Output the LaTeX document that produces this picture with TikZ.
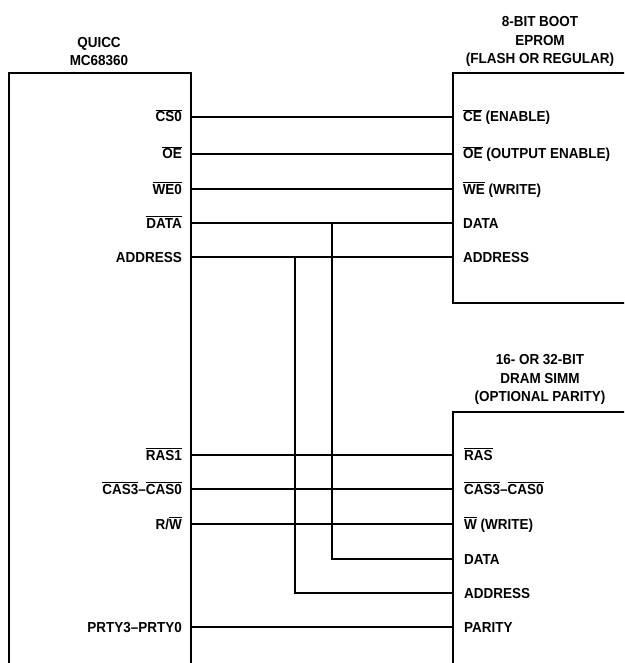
\documentclass[tikz,border=0pt]{standalone}
\usepackage{fontspec}
\setmainfont{Liberation Sans}[FakeStretch=0.93]
\newcommand{\ob}[1]{$\overline{\mbox{#1}}$}
\begin{document}
\begin{tikzpicture}[x=1pt,y=-1pt,
  chipbox/.style={draw,line width=2.6pt,inner sep=0pt,outer sep=0pt,anchor=north west},
  lbl/.style={font=\fontsize{14.5}{18.5}\selectfont\bfseries,inner sep=0pt},
  pinl/.style={lbl,anchor=base east},
  pinr/.style={lbl,anchor=base west},
  title/.style={lbl,align=center,anchor=south},
  thin/.style={line width=1.4pt},
  bus/.style={line width=2.8pt}]
\useasboundingbox (0,0) rectangle (624,663);
\clip (0,0) rectangle (624,663);
% boxes
\node[chipbox,minimum width=182pt,minimum height=640pt] (chip) at (9,73) {};
\node[chipbox,minimum width=220pt,minimum height=230pt] (eprom) at (453,73) {};
\node[chipbox,minimum width=220pt,minimum height=300pt] (dram) at (453,412) {};
% titles
\node[title] (tq) at (99,66) {QUICC\\MC68360};
\node[title] (te) at (540,67) {8-BIT BOOT\\EPROM\\(FLASH OR REGULAR)};
\node[title] (td) at (540,405) {16- OR 32-BIT\\DRAM SIMM\\(OPTIONAL PARITY)};
% QUICC pins
\node[pinl] (qcs)  at (182,122) {\ob{CS0}};
\node[pinl] (qoe)  at (182,159) {\ob{OE}};
\node[pinl] (qwe)  at (182,194) {\ob{WE0}};
\node[pinl] (qdat) at (182,228) {\ob{DATA}};
\node[pinl] (qadr) at (182,262) {ADDRESS};
\node[pinl] (qras) at (182,460) {\ob{RAS1}};
\node[pinl] (qcas) at (182,494) {\ob{CAS3}--\ob{CAS0}};
\node[pinl] (qrw)  at (182,529) {R/\ob{W}};
\node[pinl] (qpar) at (182,632) {PRTY3--PRTY0};
% EPROM pins
\node[pinr] (ece)  at (463,122) {\ob{CE} (ENABLE)};
\node[pinr] (eoe)  at (463,159) {\ob{OE} (OUTPUT ENABLE)};
\node[pinr] (ewe)  at (463,194) {\ob{WE} (WRITE)};
\node[pinr] (edat) at (463,228) {DATA};
\node[pinr] (eadr) at (463,262) {ADDRESS};
% DRAM pins
\node[pinr] (dras) at (464,460) {\ob{RAS}};
\node[pinr] (dcas) at (464,494) {\ob{CAS3}--\ob{CAS0}};
\node[pinr] (dw)   at (464,529) {\ob{W} (WRITE)};
\node[pinr] (ddat) at (464,564) {DATA};
\node[pinr] (dadr) at (464,598) {ADDRESS};
\node[pinr] (dpar) at (464,632) {PARITY};
% wire y-levels
\coordinate (ycs) at (0,117);
\coordinate (yoe) at (0,154);
\coordinate (ywe) at (0,189);
\coordinate (ydat) at (0,223);
\coordinate (yadr) at (0,257);
\coordinate (yras) at (0,455);
\coordinate (ycas) at (0,489);
\coordinate (yrw) at (0,524);
\coordinate (yddat) at (0,559);
\coordinate (ydadr) at (0,593);
\coordinate (ypar) at (0,627);
\coordinate (xdat) at (332,0);
\coordinate (xadr) at (295,0);
% connectors
\draw[thin] (chip.east |- ycs) -- (eprom.west |- ycs);
\draw[thin] (chip.east |- yoe) -- (eprom.west |- yoe);
\draw[thin] (chip.east |- ywe) -- (eprom.west |- ywe);
\draw[bus] (chip.east |- ydat) -- (eprom.west |- ydat);
\draw[bus] (chip.east |- yadr) -- (eprom.west |- yadr);
\draw[thin] (chip.east |- yras) -- (dram.west |- yras);
\draw[thin] (chip.east |- ycas) -- (dram.west |- ycas);
\draw[thin] (chip.east |- yrw) -- (dram.west |- yrw);
\draw[bus] (chip.east |- ypar) -- (dram.west |- ypar);
\draw[bus,line join=miter] (xdat |- ydat) -- (xdat |- yddat) -- (dram.west |- yddat);
\draw[bus,line join=miter] (xadr |- yadr) -- (xadr |- ydadr) -- (dram.west |- ydadr);
\end{tikzpicture}
\end{document}
